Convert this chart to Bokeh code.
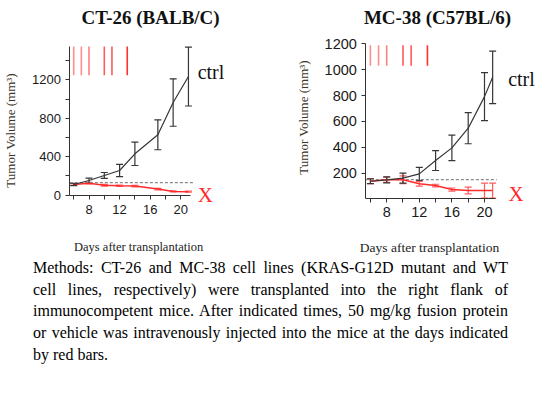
import math
from bokeh.plotting import figure
from bokeh.models import ColumnDataSource, Whisker, TeeHead, FixedTicker, Div
from bokeh.core.properties import value
from bokeh.layouts import row, column
from bokeh.embed import file_html
from bokeh.resources import INLINE

# ---------------- data ----------------
dose_days = [6, 7, 8, 10, 11, 13]

# CT-26 (BALB/C)
ct26_ctrl_days = [6, 8, 10, 12, 14, 17, 19, 21]
ct26_ctrl_mean = [111, 153, 205, 257, 431, 629, 965, 1236]
ct26_ctrl_err = [12, 24, 31, 64, 122, 156, 247, 307]
ct26_x_days = [6, 8, 10, 12, 14, 17, 19, 21]
ct26_x_mean = [111, 125, 104, 98, 95, 63, 39, 36]
ct26_x_err = [8, 9, 9, 8, 8, 8, 6, 6]
ct26_baseline = 130
ct26_bar_range = [1250, 1550]

# MC-38 (C57BL/6)
mc38_ctrl_days = [6, 8, 10, 12, 14, 16, 18, 20, 21]
mc38_ctrl_mean = [138, 149, 162, 195, 298, 396, 548, 792, 941]
mc38_ctrl_err = [18, 23, 39, 51, 77, 99, 120, 185, 203]
mc38_x_days = [6, 8, 10, 12, 14, 16, 18, 20, 21]
mc38_x_mean = [138, 150, 150, 118, 105, 74, 66, 66, 66]
mc38_x_err = [18, 20, 30, 18, 10, 12, 26, 58, 58]
mc38_baseline = 151
mc38_bar_range = [1030, 1190]

x_ticks = [6, 8, 10, 12, 14, 16, 18, 20]
x_tick_labels = {6: "", 8: "8", 10: "", 12: "12", 14: "", 16: "16", 18: "", 20: "20"}
ct26_y_ticks = [0, 200, 400, 600, 800, 1000, 1200, 1400]
ct26_y_labels = {0: "0", 200: "", 400: "400", 600: "", 800: "800", 1000: "", 1200: "1200", 1400: ""}
mc38_y_ticks = [200, 400, 600, 800, 1000, 1200]

titles = ["CT-26 (BALB/C)", "MC-38 (C57BL/6)"]
x_title = "Days after transplantation"
y_title = "Tumor Volume (mm\u00b3)"
series_names = ["ctrl", "X"]

methods_lines = [
    "Methods: CT-26 and MC-38 cell lines (KRAS-G12D mutant and WT",
    "cell lines, respectively) were transplanted into the right flank of",
    "immunocompetent mice. After indicated times, 50 mg/kg fusion protein",
    "or vehicle was intravenously injected into the mice at the days indicated",
    "by red bars.",
]

# ---------------- styles ----------------
CTRL = "#363636"
RED = "#ff2a2a"
RED_ERR = "#ff5c5c"
BAR_COLORS = ["#ff8c8c", "#ff8c8c", "#ff8080", "#ff5a5a", "#ff5a5a", "#ff3030"]
SERIF = "Liberation Serif"
SANS = "Liberation Sans"
FRAME_H = 258


def panel(xr, yr, fw, tick_size, x_at, y_at, x_bounds, y_bounds):
    p = figure(x_range=xr, y_range=yr, frame_width=fw, frame_height=FRAME_H,
               min_border_left=0, min_border_top=0, min_border_right=0,
               min_border_bottom=0, toolbar_location=None, output_backend="svg")
    p.outline_line_color = None
    p.grid.visible = False
    p.border_fill_color = "white"
    p.background_fill_color = "white"
    for ax in (p.xaxis[0], p.yaxis[0]):
        ax.axis_line_color = "#333333"
        ax.major_tick_line_color = "#333333"
        ax.major_tick_in = 0
        ax.major_tick_out = 4
        ax.minor_tick_line_color = None
        ax.major_label_text_font = SANS
        ax.major_label_text_font_size = tick_size
        ax.major_label_text_color = "#1a1a1a"
        ax.major_label_standoff = 5
    p.xaxis.ticker = FixedTicker(ticks=x_ticks)
    p.xaxis.major_label_overrides = x_tick_labels
    p.xaxis.fixed_location = x_at
    p.yaxis.fixed_location = y_at
    p.xaxis.bounds = x_bounds
    p.yaxis.bounds = y_bounds
    return p


def draw(p, ctrl_d, ctrl_m, ctrl_e, x_d, x_m, x_e, baseline, bar_range, dash_x):
    p.segment(x0=dose_days, x1=dose_days, y0=[bar_range[0]] * len(dose_days),
              y1=[bar_range[1]] * len(dose_days), line_color=BAR_COLORS, line_width=1.6)
    p.segment(x0=[dash_x[0]], x1=[dash_x[1]], y0=[baseline], y1=[baseline],
              line_color="#8a8a8a", line_dash="3 2", line_width=1.3)
    xs = ColumnDataSource(dict(x=x_d, y=x_m,
                               lo=[m - e for m, e in zip(x_m, x_e)],
                               hi=[m + e for m, e in zip(x_m, x_e)]))
    p.add_layout(Whisker(source=xs, base="x", lower="lo", upper="hi",
                         line_color=RED_ERR, line_width=1.2,
                         lower_head=TeeHead(size=7, line_color=RED_ERR, line_width=1.2),
                         upper_head=TeeHead(size=7, line_color=RED_ERR, line_width=1.2)))
    p.line("x", "y", source=xs, line_color=RED, line_width=1.5)
    cs = ColumnDataSource(dict(x=ctrl_d, y=ctrl_m,
                               lo=[m - e for m, e in zip(ctrl_m, ctrl_e)],
                               hi=[m + e for m, e in zip(ctrl_m, ctrl_e)]))
    p.line("x", "y", source=cs, line_color=CTRL, line_width=1.2)
    p.add_layout(Whisker(source=cs, base="x", lower="lo", upper="hi",
                         line_color=CTRL, line_width=1.2,
                         lower_head=TeeHead(size=7, line_color=CTRL, line_width=1.2),
                         upper_head=TeeHead(size=7, line_color=CTRL, line_width=1.2)))


def texts(p, title_xy, xlab_xy, ylab_xy, ctrl_xy, x_xy, title_size, xlab_size):
    p.text(x=[title_xy[0]], y=[title_xy[1]], text=[title_xy[2]], text_font=value(SERIF),
           text_font_style="bold", text_font_size=title_size, text_color="#111111",
           text_align="center", text_baseline="middle")
    p.text(x=[xlab_xy[0]], y=[xlab_xy[1]], text=[x_title], text_font=value(SERIF),
           text_font_size=xlab_size, text_color="#222222",
           text_align="center", text_baseline="middle")
    p.text(x=[ylab_xy[0]], y=[ylab_xy[1]], text=[y_title], text_font=value(SERIF),
           text_font_size="13px", text_color="#3c3528", angle=math.pi / 2,
           text_align="center", text_baseline="middle")
    p.text(x=[ctrl_xy[0]], y=[ctrl_xy[1]], text=[series_names[0]], text_font=value(SERIF),
           text_font_size="20px", text_color="#111111",
           text_align="left", text_baseline="middle")
    p.text(x=[x_xy[0]], y=[x_xy[1]], text=[series_names[1]], text_font=value(SERIF),
           text_font_size="21px", text_color=RED,
           text_align="left", text_baseline="middle")


# ---- CT-26 ----  (7.65 px/day, 0.096 px/unit)
p1 = panel((-3.569, 30.68), (-660, 2028), 262, "13px", -8, 5.5, (5.5, 21.3), (-8, 1550))
p1.yaxis.ticker = FixedTicker(ticks=ct26_y_ticks)
p1.yaxis.major_label_overrides = ct26_y_labels
draw(p1, ct26_ctrl_days, ct26_ctrl_mean, ct26_ctrl_err, ct26_x_days, ct26_x_mean,
     ct26_x_err, ct26_baseline, ct26_bar_range, (5.5, 21.8))
texts(p1, (16.05, 1851, titles[0]), (14.48, -545), (-2.26, 674), (22.2, 1278), (22.2, -3),
      "19px", "12.5px")

# ---- MC-38 ----  (8.15 px/day, 0.1294 px/unit)
p2 = panel((-7.239, 26.871), (-459, 1535), 278, "14.5px", 7, 5.44, (5.44, 21.35), (7, 1200))
p2.yaxis.ticker = FixedTicker(ticks=mc38_y_ticks)
draw(p2, mc38_ctrl_days, mc38_ctrl_mean, mc38_ctrl_err, mc38_x_days, mc38_x_mean,
     mc38_x_err, mc38_baseline, mc38_bar_range, (5.44, 21.5))
texts(p2, (14.24, 1403, titles[1]), (13.26, -374), (-2.21, 631), (22.9, 931), (22.95, 43),
      "19px", "13.5px")

# ---- methods text ----
inner = ""
for i, line in enumerate(methods_lines):
    last = "justify" if i < len(methods_lines) - 1 else "left"
    inner += f'<div style="text-align:justify;text-align-last:{last};">{line}</div>'
html = ('<div style="margin-left:33px;margin-top:-1px;width:475px;'
        'font-family:\'Liberation Serif\',serif;'
        'font-size:16px;line-height:21.7px;color:#000000;">' + inner + '</div>')
div = Div(text=html, width=540, height=120, margin=0)

layout = column(row(p1, p2), div)
open("out.html", "w").write(file_html(layout, INLINE))
